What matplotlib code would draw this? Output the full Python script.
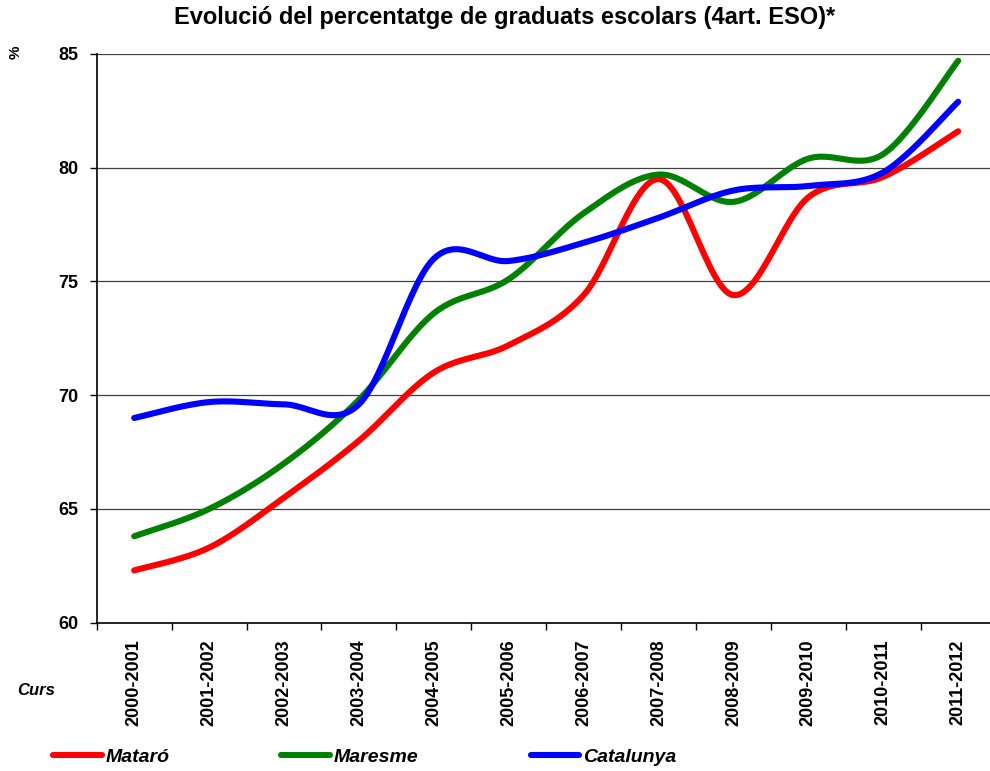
import numpy as np
import matplotlib
matplotlib.use("Agg")
import matplotlib.pyplot as plt

plt.rcParams['font.family'] = ['Liberation Sans', 'DejaVu Sans']

# Data
cursos = ['2000-2001', '2001-2002', '2002-2003', '2003-2004', '2004-2005', '2005-2006',
          '2006-2007', '2007-2008', '2008-2009', '2009-2010', '2010-2011', '2011-2012']
mataro = [62.3, 63.3, 65.5, 68.0, 71.0, 72.2, 74.4, 79.5, 74.4, 78.7, 79.6, 81.6]
maresme = [63.8, 65.0, 67.0, 69.8, 73.6, 75.1, 78.0, 79.7, 78.5, 80.4, 80.6, 84.7]
catalunya = [69.0, 69.7, 69.6, 69.6, 76.0, 75.9, 76.7, 77.8, 79.0, 79.2, 79.8, 82.9]

series = [('Mataró', mataro, '#ff0000'),
          ('Maresme', maresme, '#008000'),
          ('Catalunya', catalunya, '#0000ff')]


def smooth(y, n=30):
    # Excel-style smoothed line (Catmull-Rom Bezier through the points)
    y = np.asarray(y, float)
    x = np.arange(len(y), dtype=float)
    px = np.concatenate([[x[0]], x, [x[-1]]])
    py = np.concatenate([[y[0]], y, [y[-1]]])
    xs, ys = [], []
    t = np.linspace(0, 1, n)
    for i in range(len(y) - 1):
        p0, p1, p2, p3 = np.array([px[i], py[i]]), np.array([px[i+1], py[i+1]]), \
            np.array([px[i+2], py[i+2]]), np.array([px[i+3], py[i+3]])
        c1 = p1 + (p2 - p0) / 6
        c2 = p2 - (p3 - p1) / 6
        b = ((1-t)**3)[:, None]*p1 + (3*(1-t)**2*t)[:, None]*c1 + \
            (3*(1-t)*t**2)[:, None]*c2 + (t**3)[:, None]*p2
        xs.append(b[:, 0])
        ys.append(b[:, 1])
    return np.concatenate(xs), np.concatenate(ys)


fig = plt.figure(figsize=(9.9, 7.71), dpi=100)
ax = fig.add_axes([0.0977, 0.1923, 0.908, 0.7377])

for name, vals, col in series:
    sx, sy = smooth(vals)
    ax.plot(sx, sy, color=col, lw=4.4, solid_capstyle='round', label=name, zorder=3)

ax.set_xlim(-0.5, len(cursos) - 0.5)
ax.set_ylim(60, 85)
ax.set_yticks([60, 65, 70, 75, 80, 85])
ax.yaxis.grid(True, color='#404040', lw=0.9)
ax.set_axisbelow(True)

ax.set_xticks(np.arange(len(cursos)))
ax.set_xticklabels(cursos, rotation=90, fontsize=13, fontweight='bold')
ax.set_xticks(np.arange(len(cursos) + 1) - 0.5, minor=True)
ax.tick_params(axis='x', which='major', length=0, pad=12)
ax.tick_params(axis='x', which='minor', length=5, width=1, direction='out')
ax.tick_params(axis='y', length=5, width=1, direction='out', pad=8, labelsize=13)
for lab in ax.get_yticklabels():
    lab.set_fontweight('bold')

for s in ['top', 'right']:
    ax.spines[s].set_visible(False)
ax.spines['left'].set_linewidth(1.2)
ax.spines['bottom'].set_linewidth(1.2)

fig.text(0.51, 0.977, 'Evolució del percentatge de graduats escolars (4art. ESO)*',
         ha='center', va='center', fontsize=17, fontweight='bold')
fig.text(0.016, 0.932, '%', rotation=90, ha='center', va='center',
         fontsize=11, fontweight='bold')
fig.text(0.017, 0.105, 'Curs', ha='left', va='center', fontsize=12,
         fontweight='bold', style='italic')

fig.legend(loc='center left', bbox_to_anchor=(0.036, 0.018), ncol=3, frameon=False,
           handlelength=2.5, handletextpad=0.2, columnspacing=5.75,
           prop={'size': 14, 'weight': 'bold', 'style': 'italic'})

fig.savefig('out.png', dpi=100)
